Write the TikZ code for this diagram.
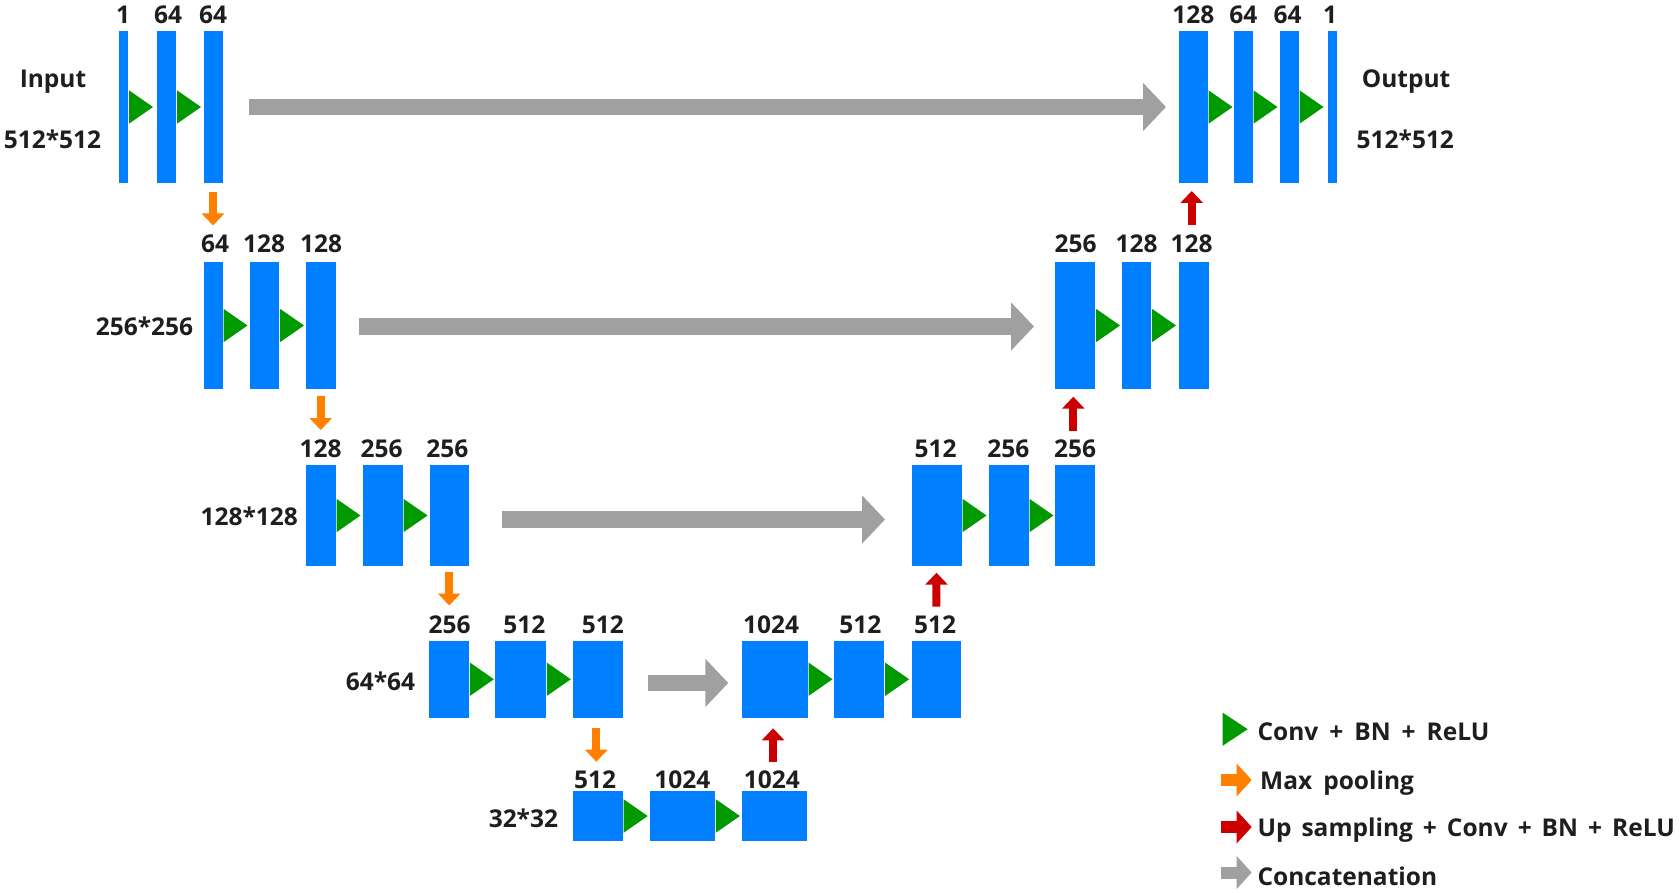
\documentclass[tikz,border=0pt]{standalone}
\usepackage{fontspec}
\setmainfont{Open Sans}
\usetikzlibrary{arrows.meta,calc}
\definecolor{blk}{RGB}{0,128,255}
\definecolor{cgreen}{RGB}{0,153,0}
\definecolor{corange}{RGB}{255,128,0}
\definecolor{cred}{RGB}{204,0,0}
\definecolor{cgray}{RGB}{160,160,160}
\definecolor{ctext}{RGB}{30,30,30}
\tikzset{
  layer/.style={fill=blk,draw=none,inner sep=0pt,outer sep=0pt,anchor=north west},
  txt/.style={text=ctext,inner sep=0pt,font=\fontsize{24.5}{29}\selectfont\bfseries},
  legtxt/.style={txt,anchor=base west,execute at begin node={\spaceskip=11pt plus 1pt}},
  concat/.style={draw=cgray,line width=16.5pt,-{Triangle[length=23pt,width=47pt]}},
  pool/.style={draw=corange,line width=8pt,-{Triangle[length=12pt,width=22pt]}},
  upsamp/.style={draw=cred,line width=8pt,-{Triangle[length=12pt,width=22pt]}},
  legarrow/.style={line width=12pt,-{Triangle[length=15pt,width=32pt]}},
}
\newcommand\lay[5]{\node[layer,minimum width=#3pt,minimum height=#5pt] (#1) at (#2,#4) {};}
\newcommand\conv[1]{\fill[cgreen] ($(#1.east)+(1,-16.7)$) -- ($(#1.east)+(25,0)$) -- ($(#1.east)+(1,16.7)$) -- cycle;}
\newcommand\lbl[4]{\node[txt,anchor=base] (#1) at (#2,#3) {#4};}
\begin{document}
\begin{tikzpicture}[x=1pt,y=-1pt]
\useasboundingbox (0,0) rectangle (1680,893);
% level 0
\lay{l0a}{118.5}{9.5}{31}{152}
\lay{l0b}{156.5}{19.5}{31}{152}
\lay{l0c}{203.5}{19}{31}{152}
\lay{r0a}{1178.5}{29}{31}{152}
\lay{r0b}{1233.5}{19}{31}{152}
\lay{r0c}{1279.5}{19}{31}{152}
\lay{r0d}{1327.5}{9}{31}{152}
% level 1
\lay{l1a}{203.5}{19}{262.5}{126}
\lay{l1b}{249.5}{29.5}{262.5}{126}
\lay{l1c}{306}{29.5}{262.5}{126}
\lay{r1a}{1055}{40}{262.5}{126}
\lay{r1b}{1121.5}{29.5}{262.5}{126}
\lay{r1c}{1178.5}{30}{262.5}{126}
% level 2
\lay{l2a}{306}{29.5}{465}{101}
\lay{l2b}{362.5}{40}{465}{101}
\lay{l2c}{429.5}{39.5}{465}{101}
\lay{r2a}{911.5}{50}{465}{101}
\lay{r2b}{988.5}{40}{465}{101}
\lay{r2c}{1055}{40}{465}{101}
% level 3
\lay{l3a}{428.7}{40.2}{641}{76.5}
\lay{l3b}{495.3}{50.5}{641}{76.5}
\lay{l3c}{572.6}{50.1}{641}{76.5}
\lay{r3a}{742.1}{65.4}{641}{76.5}
\lay{r3b}{833.9}{50.2}{641}{76.5}
\lay{r3c}{911.6}{49.7}{641}{76.5}
% level 4
\lay{b4a}{573}{49.7}{791}{50}
\lay{b4b}{649.5}{65.4}{791}{50}
\lay{b4c}{742.1}{65}{791}{50}
% conv triangles
\conv{l0a}\conv{l0b}\conv{r0a}\conv{r0b}\conv{r0c}
\conv{l1a}\conv{l1b}\conv{r1a}\conv{r1b}
\conv{l2a}\conv{l2b}\conv{r2a}\conv{r2b}
\conv{l3a}\conv{l3b}\conv{r3a}\conv{r3b}
\conv{b4a}\conv{b4b}
% concatenation arrows
\draw[concat] ([xshift=26.5pt]l0c.east) -- ([xshift=-12.5pt]r0a.west);
\draw[concat] ([xshift=23.5pt,yshift=-1pt]l1c.east) -- ([xshift=-21pt,yshift=-1pt]r1a.west);
\draw[concat] ([xshift=33.3pt,yshift=-4pt]l2c.east) -- ([xshift=-26.5pt,yshift=-4pt]r2a.west);
\draw[concat] ([xshift=25.3pt,yshift=-3.7pt]l3c.east) -- ([xshift=-13.8pt,yshift=-3.7pt]r3a.west);
% max pooling
\draw[pool] ([yshift=-8.7pt]l0c.south) -- ([yshift=-42.5pt]l0c.south);
\draw[pool] ([yshift=-7.5pt]l1c.south) -- ([yshift=-41.5pt]l1c.south);
\draw[pool] ([yshift=-5.7pt]l2c.south) -- ([yshift=-39.5pt]l2c.south);
\draw[pool] ([xshift=-1.3pt,yshift=-10.2pt]l3c.south) -- ([xshift=-1.3pt,yshift=-44.2pt]l3c.south);
% up sampling
\draw[upsamp] ([xshift=-1.5pt,yshift=28.7pt]b4c.north) -- ([xshift=-1.5pt,yshift=62.7pt]b4c.north);
\draw[upsamp] ([yshift=34.3pt]r3c.north) -- ([yshift=-6.7pt]r2a.south);
\draw[upsamp] ([xshift=-1.7pt,yshift=-42.2pt]r1a.south) -- ([xshift=-1.7pt,yshift=-8.2pt]r1a.south);
\draw[upsamp] ([xshift=-1.3pt,yshift=-42pt]r0a.south) -- ([xshift=-1.3pt,yshift=-8pt]r0a.south);
% channel labels
\lbl{t0a}{123}{23.3}{1}
\lbl{t0b}{168}{23.3}{64}
\lbl{t0c}{213}{23.3}{64}
\lbl{s0a}{1193.3}{23.3}{128}
\lbl{s0b}{1243.3}{23.3}{64}
\lbl{s0c}{1287.7}{23.3}{64}
\lbl{s0d}{1330}{23.3}{1}
\lbl{t1a}{215}{252.7}{64}
\lbl{t1b}{264}{252.7}{128}
\lbl{t1c}{321}{252.7}{128}
\lbl{s1a}{1075.7}{252.7}{256}
\lbl{s1b}{1136.7}{252.7}{128}
\lbl{s1c}{1191.7}{252.7}{128}
\lbl{t2a}{320.7}{457.7}{128}
\lbl{t2b}{381.7}{457.7}{256}
\lbl{t2c}{447.3}{457.7}{256}
\lbl{s2a}{935.7}{457.7}{512}
\lbl{s2b}{1008.3}{457.7}{256}
\lbl{s2c}{1075}{457.7}{256}
\lbl{t3a}{449.7}{633.3}{256}
\lbl{t3b}{524.4}{633.3}{512}
\lbl{t3c}{602.8}{633.3}{512}
\lbl{s3a}{771.2}{633.3}{1024}
\lbl{s3b}{860.3}{633.3}{512}
\lbl{s3c}{935}{633.3}{512}
\lbl{t4a}{595.2}{788}{512}
\lbl{t4b}{682.4}{788}{1024}
\lbl{t4c}{771.9}{788}{1024}
% side labels
\lbl{inp}{53}{87.3}{Input}
\lbl{inres}{52.5}{148.3}{512*512}
\lbl{outp}{1406}{87.3}{Output}
\lbl{outres}{1405.3}{148.3}{512*512}
\node[txt,anchor=base east] (res1) at (193.3,335) {256*256};
\node[txt,anchor=base east] (res2) at (298,525) {128*128};
\node[txt,anchor=base east] (res3) at (415.3,690.7) {64*64};
\lbl{res4}{523.4}{827.7}{32*32}
% legend
\fill[cgreen] (1222.7,712.7) -- (1247.7,729.2) -- (1222.7,745.7) -- cycle;
\node[legtxt] (leg1) at (1257.3,740) {Conv + BN + ReLU};
\coordinate (lp1) at (1220.7,780);
\coordinate (lp2) at (1251.7,780);
\draw[legarrow,draw=corange] (lp1) -- (lp2);
\node[legtxt] (leg2) at (1260,789.3) {Max pooling};
\coordinate (lu1) at (1220.7,827);
\coordinate (lu2) at (1251.7,827);
\draw[legarrow,draw=cred] (lu1) -- (lu2);
\node[legtxt,execute at begin node={\spaceskip=10pt plus 1pt}] (leg3) at (1257.3,836.7) {Up sampling + Conv + BN + ReLU};
\coordinate (lc1) at (1220.7,872.5);
\coordinate (lc2) at (1251.7,872.5);
\draw[legarrow,draw=cgray] (lc1) -- (lc2);
\node[legtxt] (leg4) at (1257.3,885) {Concatenation};
\end{tikzpicture}
\end{document}
